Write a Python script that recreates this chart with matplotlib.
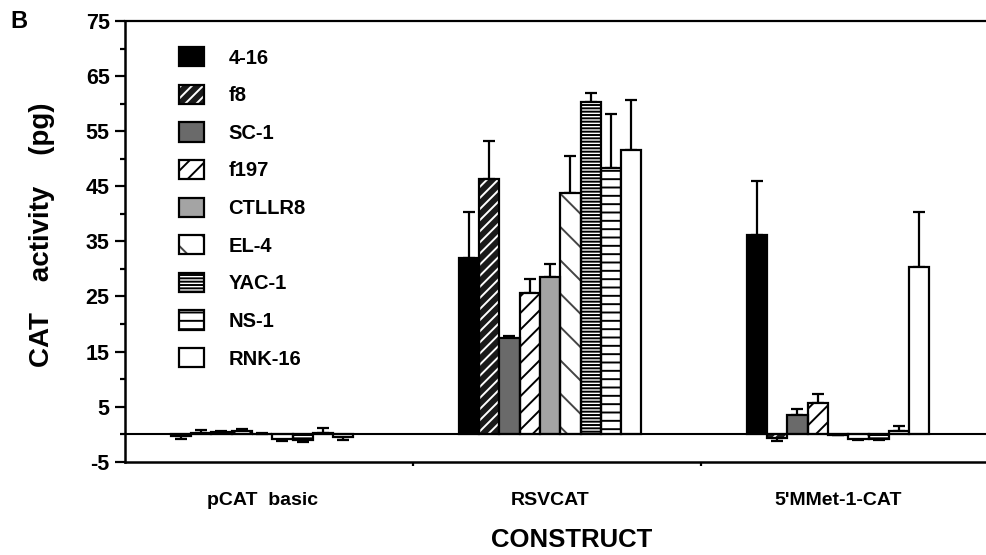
import matplotlib
matplotlib.use("Agg")
import matplotlib.pyplot as plt
import numpy as np
from matplotlib.legend_handler import HandlerTuple

plt.rcParams['font.family'] = ['Liberation Sans', 'DejaVu Sans']
plt.rcParams['font.weight'] = 'bold'
plt.rcParams['hatch.linewidth'] = 1.4
plt.rcParams['axes.unicode_minus'] = False

# ---- data ----
constructs = ["pCAT  basic", "RSVCAT", "5'MMet-1-CAT"]
cell_lines = ["4-16", "f8", "SC-1", "f197", "CTLLR8", "EL-4", "YAC-1", "NS-1", "RNK-16"]
v_416 = [-0.4, 31.9, 36.2]
v_f8 = [0.2, 46.3, -0.7]
v_sc1 = [0.4, 17.4, 3.5]
v_f197 = [0.6, 25.6, 5.7]
v_ctllr8 = [0.1, 28.6, -0.1]
v_el4 = [-0.9, 43.8, -0.8]
v_yac1 = [-1.0, 60.3, -0.8]
v_ns1 = [0.3, 48.3, 0.6]
v_rnk16 = [-0.6, 51.5, 30.3]
e_416 = [0.4, 8.4, 9.8]
e_f8 = [0.6, 6.9, 0.5]
e_sc1 = [0.2, 0.5, 1.1]
e_f197 = [0.3, 2.5, 1.6]
e_ctllr8 = [0.1, 2.3, 0.1]
e_el4 = [0.4, 6.7, 0.3]
e_yac1 = [0.4, 1.7, 0.3]
e_ns1 = [0.8, 9.9, 0.9]
e_rnk16 = [0.4, 9.2, 10.1]
y_ticks = [-5, 5, 15, 25, 35, 45, 55, 65, 75]

values = [v_416, v_f8, v_sc1, v_f197, v_ctllr8, v_el4, v_yac1, v_ns1, v_rnk16]
errors = [e_416, e_f8, e_sc1, e_f197, e_ctllr8, e_el4, e_yac1, e_ns1, e_rnk16]

# styles: (facecolor, hatch, hatchcolor)
styles = [
    ("black", None, None),
    ("#1a1a1a", "///", "white"),
    ("#6a6a6a", None, None),
    ("white", "//", "black"),
    ("#a4a4a4", None, None),
    ("white", "\\", "#444444"),
    ("white", "-----", "black"),
    ("white", "--", "black"),
    ("white", None, None),
]

fig = plt.figure(figsize=(9.87, 5.55), dpi=100)
ax = fig.add_axes([125/987, 1 - 461.7/555, 862/987, (461.7 - 21)/555])

x = np.arange(len(constructs))
w = 0.0705
handles = []
for i, (vals, errs, (fc, hatch, hc)) in enumerate(zip(values, errors, styles)):
    pos = x + (i - 4) * w
    vals = np.array(vals)
    errs = np.array(errs)
    lower = np.where(vals < 0, errs, 0)
    upper = np.where(vals >= 0, errs, 0)
    ax.errorbar(pos, vals, yerr=[lower, upper], fmt='none', ecolor='black',
                elinewidth=1.6, capsize=4.3, capthick=1.6, zorder=1)
    if hatch is not None:
        under = ax.bar(pos, vals, width=w, color=fc, edgecolor=hc, hatch=hatch,
                       linewidth=0, zorder=2)
        over = ax.bar(pos, vals, width=w, facecolor='none', edgecolor='black',
                      linewidth=1.6, zorder=3)
        handles.append((under.patches[0], over.patches[0]))
    else:
        b = ax.bar(pos, vals, width=w, color=fc, edgecolor='black',
                   linewidth=1.6, zorder=3)
        handles.append(b.patches[0])

ax.axhline(0, color='black', linewidth=1.5, zorder=4)

ax.set_xlim(-0.476, 2.517)
ax.set_ylim(-5, 75)
ax.set_yticks(y_ticks)
ax.set_yticks(np.arange(0, 75, 10), minor=True)
ax.tick_params(axis='y', which='major', direction='out', length=7, width=1.6,
               labelsize=15.5, pad=4)
ax.tick_params(axis='y', which='minor', direction='out', length=3.5, width=1.6)
ax.set_xticks(x)
ax.set_xticklabels(constructs, fontsize=14, fontweight='bold')
ax.tick_params(axis='x', which='major', length=0, pad=22)
ax.set_xticks([0.525, 1.525], minor=True)
ax.tick_params(axis='x', which='minor', direction='out', length=3, width=1.6)

ax.spines['right'].set_visible(False)
ax.spines['left'].set_linewidth(1.8)
ax.spines['top'].set_linewidth(1.6)
ax.spines['bottom'].set_linewidth(1.8)

fig.text(42/987, 1 - 235/555, "CAT    activity    (pg)", rotation=90,
         ha='center', va='center', fontsize=20, fontweight='bold')
fig.text(572/987, 1 - 540/555, "CONSTRUCT", ha='center', va='center',
         fontsize=18.5, fontweight='bold')
fig.text(19/987, 1 - 21/555, "B", ha='center', va='center',
         fontsize=17, fontweight='bold')

leg = ax.legend(handles, cell_lines, loc='upper left',
                bbox_to_anchor=(179/987, 1 - 47/555), bbox_transform=fig.transFigure,
                frameon=False, fontsize=14.5, handlelength=1.25, handleheight=1.1,
                handletextpad=1.2, labelspacing=0.85, borderpad=0, borderaxespad=0,
                handler_map={tuple: HandlerTuple(ndivide=1, pad=0)})

fig.savefig("out.png", dpi=100)
